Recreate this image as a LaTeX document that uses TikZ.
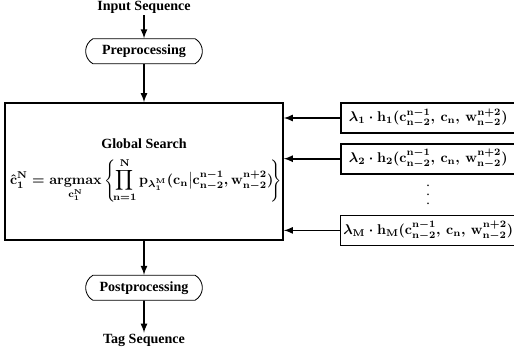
\documentclass[tikz,border=0pt]{standalone}
\usepackage[no-math]{fontspec}
\setmainfont{Liberation Serif}
\usepackage{amsmath}
\usetikzlibrary{shapes}
\usetikzlibrary{positioning}
\newcommand{\tallvdots}{\vbox{\baselineskip6.4pt\lineskiplimit0pt\hbox{.}\hbox{.}\hbox{.}}}
\newcommand{\searchformula}{$\displaystyle
    \hat{\mathbf{c}}_1^{\mathbf{N}} = \mathop{\mathbf{argmax}}\limits_{\mathbf{c_1^N}}
    \left\{\! \prod_{\mathbf{n=1}}^{\mathbf{N}} \mathbf{p}_{\lambda_1^{\mathbf{M}}}
    (\mathbf{c_n}\big\vert\mathbf{c_{n-2}^{n-1}},\mathbf{w_{n-2}^{n+2}})\! \right\}$}
\newcommand{\featurefn}[2]{$#1\cdot\mathbf{h_{#2}(c_{n-2}^{n-1},\,c_n,\,w_{n-2}^{n+2})}$}

\begin{document}
\begin{tikzpicture}[node distance=1cm, >=latex,
    iotext/.style={font=\bfseries, inner sep=1pt},
    proc/.style={draw, rounded rectangle, rounded rectangle arc length=120, line width=0.6pt, minimum width=3.15cm, minimum height=0.625cm, font=\bfseries},
    block/.style={draw, line width=1.2pt},
    feature/.style={draw, line width=1.2pt, minimum width=4.375cm, minimum height=0.75cm, inner sep=2pt, font=\boldmath},
    flow/.style={->, line width=1.2pt}]

    \useasboundingbox (0,0) rectangle (12.85,-8.95);

    % global search
    \node(search)[block, minimum width=6.95cm, minimum height=3.425cm] at (3.6,-4.2875){};
    \node(title)[font=\bfseries] at ([yshift=-1.05cm]search.north){Global Search};
    \node(formula)[font=\boldmath, inner sep=0pt] at ([xshift=0.05cm, yshift=-1.95cm]search.north){\searchformula};

    \node(pre)[proc, above=0.95cm of search]{Preprocessing};
    \node(input)[iotext, above=0.58cm of pre]{Input Sequence};
    \node(post)[proc, below=0.85cm of search]{Postprocessing};
    \node(tag)[iotext, below=0.8cm of post]{Tag Sequence};

    % feature functions
    \node(h1)[feature, below right=0cm and 1.4cm of search.north east]{\featurefn{\lambda_1}{1}};
    \node(h2)[feature, below=0.225cm of h1]{\featurefn{\lambda_2}{2}};
    \node(hM)[feature, below=1.0cm of h2]{\featurefn{\lambda_{\mathbf{M}}}{M}};
    \node(dots) at ([yshift=-0.5cm]h2.south){\tallvdots};

    \draw[flow] (input) -- (pre);
    \draw[flow] (pre) -- (search);
    \draw[flow] (search) -- (post);
    \draw[flow] (post) -- (tag);
    \draw[flow] (h1.west) -- (h1.west -| search.east);
    \draw[flow] (h2.west) -- (h2.west -| search.east);
    \draw[flow] (hM.west) -- (hM.west -| search.east);

\end{tikzpicture}
\end{document}
